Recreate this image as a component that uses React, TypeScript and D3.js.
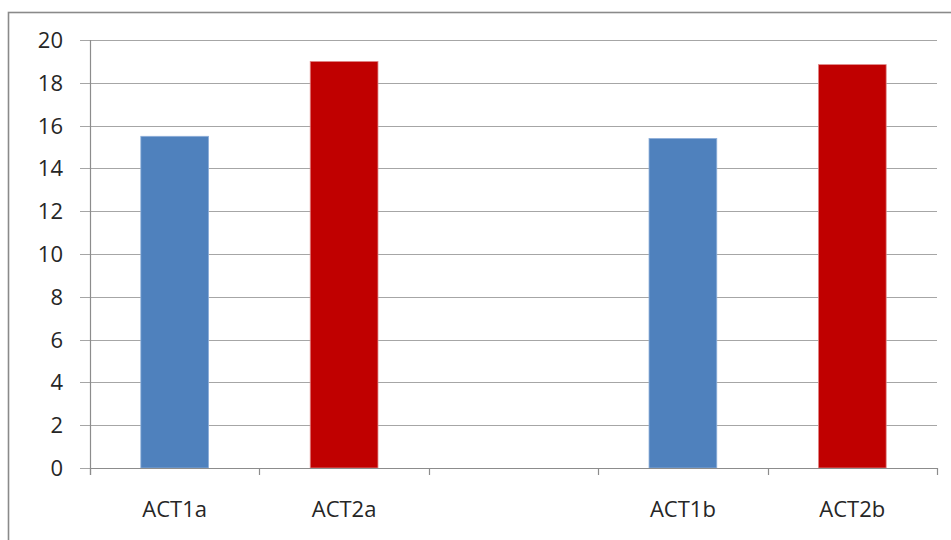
import React from "react";
import * as d3 from "d3";

// Chart data
const categories = ["ACT1a", "ACT2a", "", "ACT1b", "ACT2b"];
const values: (number | null)[] = [15.5, 19.0, null, 15.4, 18.85];
const barColors = ["#4F81BD", "#C00000", "none", "#4F81BD", "#C00000"];
const barStrokes = ["#8fb0da", "#e08a8a", "none", "#8fb0da", "#e08a8a"];
const yTicks = [0, 2, 4, 6, 8, 10, 12, 14, 16, 18, 20];

const W = 951;
const H = 540;
const plot = { left: 90, right: 937, top: 40, bottom: 468 };
const font = "'Open Sans', 'Liberation Sans', sans-serif";

export default function App() {
  const x = d3
    .scaleBand<number>()
    .domain(categories.map((_, i) => i))
    .range([plot.left, plot.right])
    .paddingInner(0.6)
    .paddingOuter(0.3);
  const slot = d3
    .scaleBand<number>()
    .domain(categories.map((_, i) => i))
    .range([plot.left, plot.right]);
  const y = d3.scaleLinear().domain([0, 20]).range([plot.bottom, plot.top]);

  const boundaries = d3.range(categories.length + 1).map(
    (i) => plot.left + i * slot.step()
  );

  return (
    <svg
      width={W}
      height={H}
      style={{ position: "absolute", left: 0, top: 0, background: "#fff" }}
    >
      {/* chart frame */}
      <rect
        x={8.5}
        y={12.5}
        width={W + 20}
        height={H + 20}
        fill="#fff"
        stroke="#8a8a8a"
        strokeWidth={1.6}
      />
      {/* gridlines */}
      {yTicks.map((t) => (
        <line
          key={"g" + t}
          x1={plot.left - 10}
          x2={plot.right}
          y1={Math.round(y(t)) + 0.5}
          y2={Math.round(y(t)) + 0.5}
          stroke="#a6a6a6"
          strokeWidth={1.2}
        />
      ))}
      {/* y tick labels */}
      {yTicks.map((t) => (
        <text
          key={"yl" + t}
          x={63}
          y={y(t)}
          dy="0.36em"
          textAnchor="end"
          fontFamily={font}
          fontSize={22}
          fill="#262626"
        >
          {t}
        </text>
      ))}
      {/* y axis */}
      <line
        x1={plot.left + 0.5}
        x2={plot.left + 0.5}
        y1={plot.top}
        y2={plot.bottom + 7}
        stroke="#8c8c8c"
        strokeWidth={1.2}
      />
      {/* x category tick marks */}
      {boundaries.map((bx, i) => (
        <line
          key={"xt" + i}
          x1={Math.round(bx) + 0.5}
          x2={Math.round(bx) + 0.5}
          y1={plot.bottom}
          y2={plot.bottom + 7}
          stroke="#8c8c8c"
          strokeWidth={1.2}
        />
      ))}
      {/* bars */}
      {values.map((v, i) =>
        v == null ? null : (
          <rect
            key={"b" + i}
            x={x(i)}
            y={y(v)}
            width={x.bandwidth()}
            height={y(0) - y(v)}
            fill={barColors[i]}
            stroke={barStrokes[i]}
            strokeWidth={0.8}
          />
        )
      )}
      {/* x axis line */}
      <line
        x1={plot.left}
        x2={plot.right}
        y1={plot.bottom + 0.5}
        y2={plot.bottom + 0.5}
        stroke="#8c8c8c"
        strokeWidth={1.2}
      />
      {/* category labels */}
      {categories.map((c, i) => (
        <text
          key={"xl" + i}
          x={(slot(i) as number) + slot.bandwidth() / 2}
          y={517}
          textAnchor="middle"
          fontFamily={font}
          fontSize={22}
          fill="#262626"
        >
          {c}
        </text>
      ))}
    </svg>
  );
}
